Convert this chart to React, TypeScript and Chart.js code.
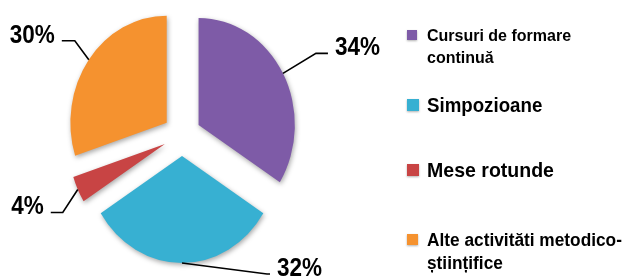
import React, { useEffect, useRef } from "react";
import { Chart, registerables } from "chart.js";

Chart.register(...registerables);

// ---- data ----
const categories = [
  "Cursuri de formare continuă",
  "Simpozioane",
  "Mese rotunde",
  "Alte activităti metodico-științifice",
];
const values = [34, 32, 4, 30];
const legendLines = [
  ["Cursuri de formare", "continuă"],
  ["Simpozioane"],
  ["Mese rotunde"],
  ["Alte activităti metodico-", "științifice"],
];

// ---- styles ----
const colors = ["#7e5ba7", "#37b0d2", "#c84444", "#f5922f"];
const SX = 0.9; // horizontal squeeze of the whole picture
const EXPLODE = 21;
const RADIUS = 107;
// leader lines: elbow offset from anchor, then horizontal run, text gap
const leaders = [
  { ex: 33, ey: -20, run: 12, side: 1 },
  { ex: 85, ey: 11, run: 3, side: 1 },
  { ex: -15, ey: 23, run: -12, side: -1 },
  { ex: -14, ey: -19, run: -13, side: -1 },
];
const legendStyle = [
  { size: 16, scale: 1.0, base: 41, lh: 22, box: 10 },
  { size: 21, scale: 0.89, base: 112, lh: 22, box: 12 },
  { size: 21, scale: 0.93, base: 177, lh: 22, box: 12 },
  { size: 18, scale: 0.96, base: 246, lh: 23, box: 11 },
];

const explodePlugin = {
  id: "explode",
  afterDatasetsUpdate(chart: any) {
    const meta = chart.getDatasetMeta(0);
    meta.data.forEach((arc: any) => {
      const mid = (arc.startAngle + arc.endAngle) / 2;
      arc.x += Math.cos(mid) * EXPLODE;
      arc.y += Math.sin(mid) * EXPLODE;
    });
  },
  beforeDatasetsDraw(chart: any) {
    const ctx = chart.ctx;
    const cx = (chart.chartArea.left + chart.chartArea.right) / 2;
    ctx.save();
    ctx.translate(cx, 0);
    ctx.scale(SX, 1);
    ctx.translate(-cx, 0);
    ctx.shadowColor = "rgba(0,0,0,0.35)";
    ctx.shadowBlur = 5;
    ctx.shadowOffsetX = 1;
    ctx.shadowOffsetY = 2;
  },
  afterDatasetsDraw(chart: any) {
    chart.ctx.restore();
  },
  afterDraw(chart: any) {
    const ctx = chart.ctx;
    const cx = (chart.chartArea.left + chart.chartArea.right) / 2;
    const meta = chart.getDatasetMeta(0);
    const total = values.reduce((a, b) => a + b, 0);
    // percentage labels with leader lines
    meta.data.forEach((arc: any, i: number) => {
      const mid = (arc.startAngle + arc.endAngle) / 2;
      const px = arc.x + Math.cos(mid) * arc.outerRadius;
      const py = arc.y + Math.sin(mid) * arc.outerRadius;
      const ax = cx + (px - cx) * SX;
      const ay = py;
      const L = leaders[i];
      const exx = ax + L.ex;
      const eyy = ay + L.ey;
      const rx = exx + L.run;
      ctx.save();
      ctx.strokeStyle = "#000";
      ctx.lineWidth = 1.6;
      ctx.beginPath();
      ctx.moveTo(ax, ay);
      ctx.lineTo(exx, eyy);
      ctx.lineTo(rx, eyy);
      ctx.stroke();
      const txt = Math.round((values[i] / total) * 100) + "%";
      ctx.translate(rx + L.side * 7, eyy + 2);
      ctx.scale(0.9, 1);
      ctx.fillStyle = "#000";
      ctx.font = "bold 25px 'Liberation Sans', Arial, sans-serif";
      ctx.textAlign = L.side > 0 ? "left" : "right";
      ctx.textBaseline = "alphabetic";
      ctx.fillText(txt, 0, 0);
      ctx.restore();
    });
    // legend
    legendLines.forEach((lines, i) => {
      const st = legendStyle[i];
      ctx.save();
      const b = st.box;
      const bx = 407;
      const by = st.base - b - 1;
      const g = ctx.createLinearGradient(bx, by, bx, by + b);
      g.addColorStop(0, colors[i]);
      g.addColorStop(1, colors[i]);
      ctx.fillStyle = g;
      ctx.shadowColor = "rgba(0,0,0,0.3)";
      ctx.shadowBlur = 2;
      ctx.shadowOffsetY = 1;
      ctx.fillRect(bx, by, b, b);
      ctx.restore();
      lines.forEach((ln, j) => {
        ctx.save();
        ctx.translate(427, st.base + j * st.lh);
        ctx.scale(st.scale, 1);
        ctx.fillStyle = "#000";
        ctx.font = `bold ${st.size}px 'Liberation Sans', Arial, sans-serif`;
        ctx.textAlign = "left";
        ctx.textBaseline = "alphabetic";
        ctx.fillText(ln, 0, 0);
        ctx.restore();
      });
    });
  },
};

export default function App() {
  const ref = useRef<HTMLCanvasElement>(null);
  useEffect(() => {
    document.body.style.margin = "0";
    const chart = new Chart(ref.current as HTMLCanvasElement, {
      type: "pie",
      data: {
        labels: categories,
        datasets: [
          {
            data: values,
            backgroundColor: colors,
            borderWidth: 0,
            hoverOffset: 0,
            radius: RADIUS,
          } as any,
        ],
      },
      options: {
        responsive: false,
        animation: false,
        layout: { padding: { left: 20, right: 284, top: 0, bottom: 7 } },
        events: [],
        plugins: {
          legend: { display: false },
          tooltip: { enabled: false },
        },
      },
      plugins: [explodePlugin],
    });
    return () => chart.destroy();
  }, []);
  return <canvas ref={ref} width={628} height={277} style={{ display: "block" }} />;
}
